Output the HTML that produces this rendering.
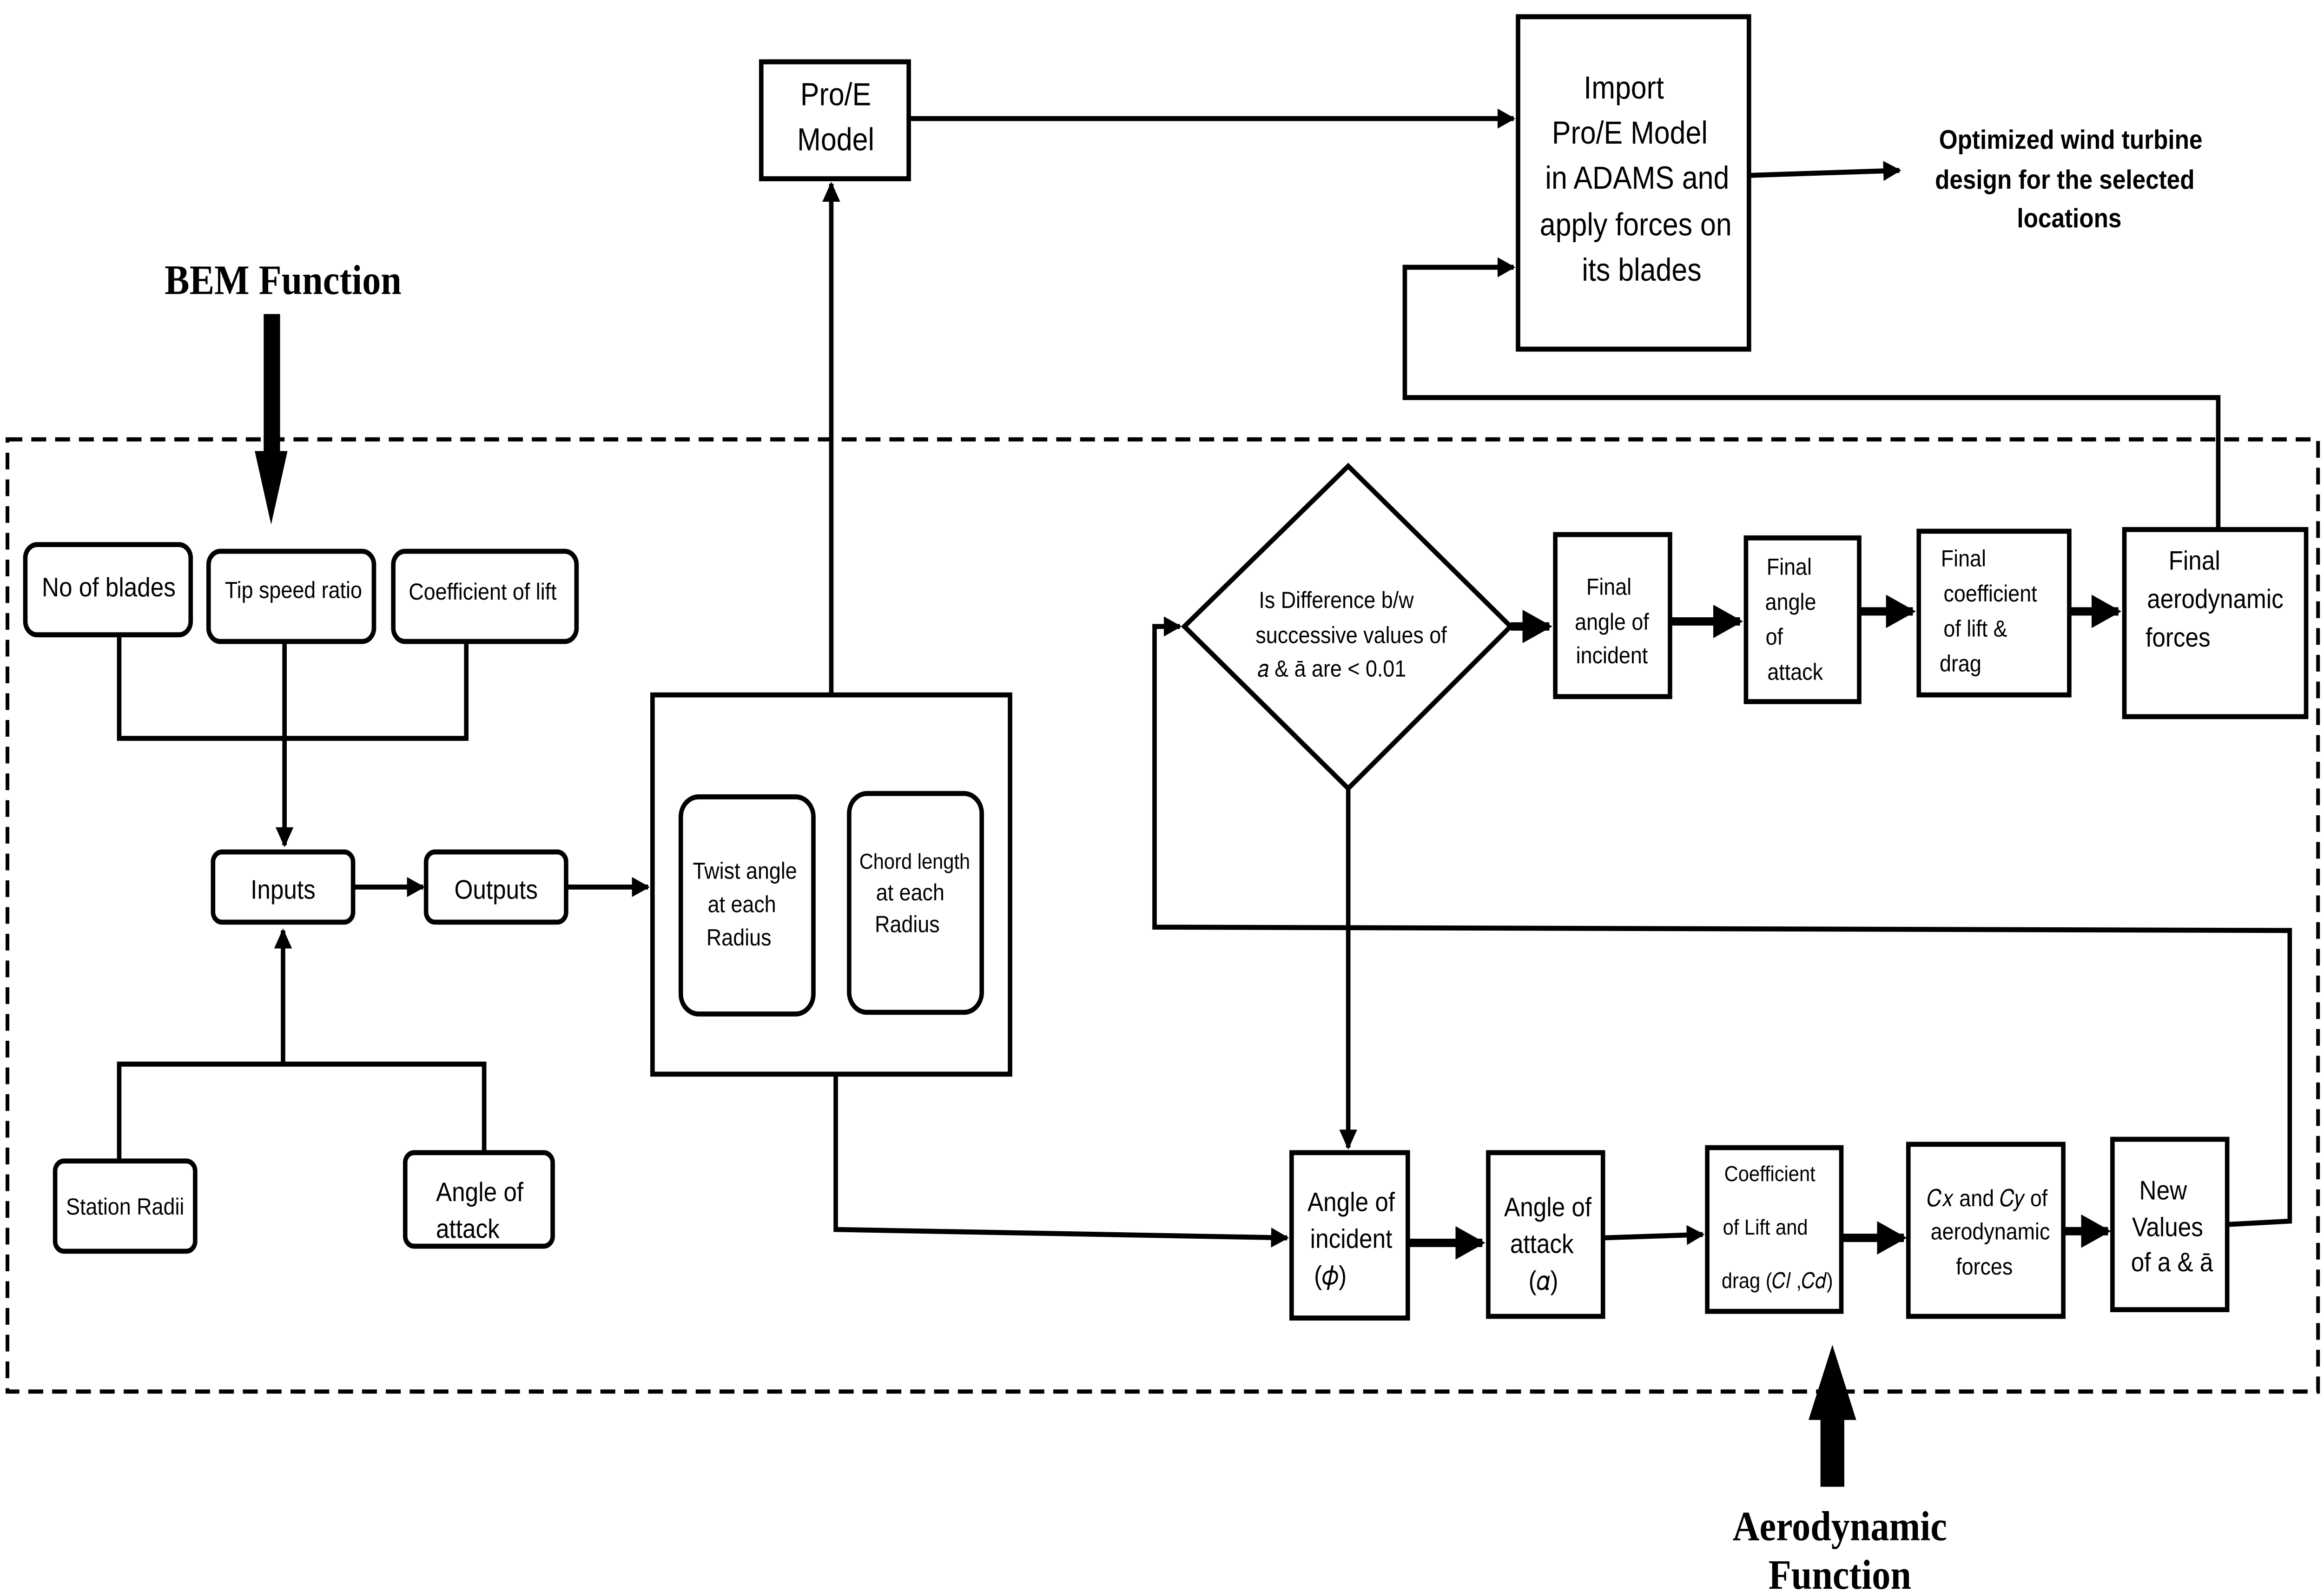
<!DOCTYPE html>
<html><head><meta charset="utf-8"><style>html,body{margin:0;padding:0;background:#fff;overflow:hidden;width:100%;height:100%}svg{display:block;width:100vw;height:100vh}</style></head><body>
<svg viewBox="0 0 1560 953" preserveAspectRatio="none" xmlns="http://www.w3.org/2000/svg" font-family="Liberation Sans, sans-serif">
<defs>
<marker id="a" viewBox="0 0 10 10" refX="9" refY="5" markerWidth="4" markerHeight="4" orient="auto"><path d="M0,0L10,5L0,10z" fill="#000"/></marker>
</defs>
<rect width="1560" height="953" fill="#fff"/>
<rect x="5" y="263" width="1551" height="570" fill="none" stroke="#000" stroke-width="2.5" stroke-dasharray="10,6"/>
<g fill="none" stroke="#000" stroke-width="3">
<rect x="17" y="326" width="111" height="54" rx="8"/>
<rect x="140" y="330" width="111" height="54" rx="8"/>
<rect x="264" y="330" width="123" height="54" rx="8"/>
<rect x="143" y="510" width="94" height="42" rx="6"/>
<rect x="286" y="510" width="94" height="42" rx="6"/>
<rect x="37" y="695" width="94" height="54" rx="6"/>
<rect x="272" y="690" width="99" height="56" rx="6"/>
<rect x="438" y="416" width="240" height="227"/>
<rect x="457" y="477" width="89" height="130" rx="12"/>
<rect x="570" y="475" width="89" height="131" rx="12"/>
<rect x="511" y="37" width="99" height="70"/>
<rect x="1019" y="10" width="155" height="199"/>
<path d="M905,279L1014,375L905,472L795,375Z"/>
<rect x="1044" y="320" width="77" height="97"/>
<rect x="1172" y="322" width="76" height="98"/>
<rect x="1288" y="318" width="101" height="98"/>
<rect x="1426" y="317" width="122" height="112"/>
<rect x="867" y="690" width="78" height="99"/>
<rect x="999" y="690" width="77" height="98"/>
<rect x="1146" y="687" width="90" height="98"/>
<rect x="1281" y="685" width="104" height="103"/>
<rect x="1418" y="682" width="77" height="102"/>
<path d="M80,380V442H313V384"/>
<path d="M191,384V506" marker-end="url(#a)"/>
<path d="M80,695V637H325V690"/>
<path d="M190,637V557" marker-end="url(#a)"/>
<path d="M237,531H284" marker-end="url(#a)"/>
<path d="M380,531H435" marker-end="url(#a)"/>
<path d="M558,416V110" marker-end="url(#a)"/>
<path d="M610,71H1016" marker-end="url(#a)"/>
<path d="M1174,105L1275,102" marker-end="url(#a)"/>
<path d="M1489,317V238H943V160H1016" marker-end="url(#a)"/>
<path d="M905,472V687" marker-end="url(#a)"/>
<path d="M561,643V736L864,741" marker-end="url(#a)"/>
<path d="M1076,741L1143,739" marker-end="url(#a)"/>
<path d="M1495,733L1537,731V557L775,555V375H792" marker-end="url(#a)"/>
</g>
<g fill="none" stroke="#000" stroke-width="5">
<path d="M1014,375H1040" marker-end="url(#a)"/>
<path d="M1121,372H1168" marker-end="url(#a)"/>
<path d="M1248,366H1284" marker-end="url(#a)"/>
<path d="M1389,366H1422" marker-end="url(#a)"/>
<path d="M945,744H995" marker-end="url(#a)"/>
<path d="M1236,741H1278" marker-end="url(#a)"/>
<path d="M1385,737H1415" marker-end="url(#a)"/>
</g>
<path d="M177,188H188V270L193,270L182,314L171,270L177,270Z" fill="#000"/>
<path d="M1222,890H1238V850H1246L1230,805L1214,850H1222Z" fill="#000"/>
<g font-family="Liberation Serif, serif" font-weight="bold" font-size="25" text-anchor="middle">
<text x="190" y="176">BEM Function</text>
<text x="1235" y="922">Aerodynamic</text>
<text x="1235" y="951">Function</text>
</g>
<g font-weight="bold" font-size="16" text-anchor="middle">
<text x="1390" y="89">Optimized wind turbine</text>
<text x="1386" y="113">design for the selected</text>
<text x="1389" y="136">locations</text>
</g>
<g font-size="16" text-anchor="middle">
<text x="73" y="357">No of blades</text>
<text x="190" y="538">Inputs</text>
<text x="333" y="538">Outputs</text>
<text x="322" y="719">Angle of</text>
<text x="314" y="741">attack</text>
<text x="561" y="63" font-size="19">Pro/E</text>
<text x="561" y="90" font-size="19">Model</text>
<g font-size="19"><text x="1090" y="59">Import</text><text x="1094" y="86">Pro/E Model</text><text x="1099" y="113">in ADAMS and</text><text x="1098" y="141">apply forces on</text><text x="1102" y="168">its blades</text></g>
<text x="907" y="725">Angle of</text><text x="907" y="747">incident</text><text x="893" y="769">(𝜙)</text>
<text x="1039" y="728">Angle of</text><text x="1035" y="750">attack</text><text x="1036" y="772">(𝛼)</text>
<text x="1452" y="718">New</text><text x="1455" y="740">Values</text><text x="1458" y="761">of a &amp; ā</text>
<text x="1473" y="341">Final</text><text x="1487" y="364">aerodynamic</text><text x="1462" y="387">forces</text>
</g>
<g font-size="14" text-anchor="middle">
<text x="197" y="358">Tip speed ratio</text>
<text x="324" y="359">Coefficient of lift</text>
<text x="84" y="727">Station Radii</text>
<text x="500" y="526">Twist angle</text><text x="498" y="546">at each</text><text x="496" y="566">Radius</text>
<text x="614" y="520" font-size="13">Chord length</text><text x="611" y="539">at each</text><text x="609" y="558">Radius</text>
<text x="897" y="364">Is Difference b/w</text><text x="907" y="385">successive values of</text><text x="894" y="405">𝑎 &amp; ā are &lt; 0.01</text>
<text x="1080" y="356">Final</text><text x="1082" y="377">angle of</text><text x="1082" y="397">incident</text>
<text x="1201" y="344">Final</text><text x="1202" y="365">angle</text><text x="1191" y="386">of</text><text x="1205" y="407">attack</text>
<text x="1318" y="339">Final</text><text x="1336" y="360">coefficient</text><text x="1326" y="381">of lift &amp;</text><text x="1316" y="402">drag</text>
<text x="1188" y="707" font-size="13">Coefficient</text><text x="1185" y="739" font-size="13">of Lift and</text><text x="1193" y="771" font-size="13">drag (𝐶𝑙 ,𝐶𝑑)</text>
<text x="1334" y="722">𝐶𝑥 and 𝐶𝑦 of</text><text x="1336" y="742">aerodynamic</text><text x="1332" y="763">forces</text>
</g>
</svg>
</body></html>
